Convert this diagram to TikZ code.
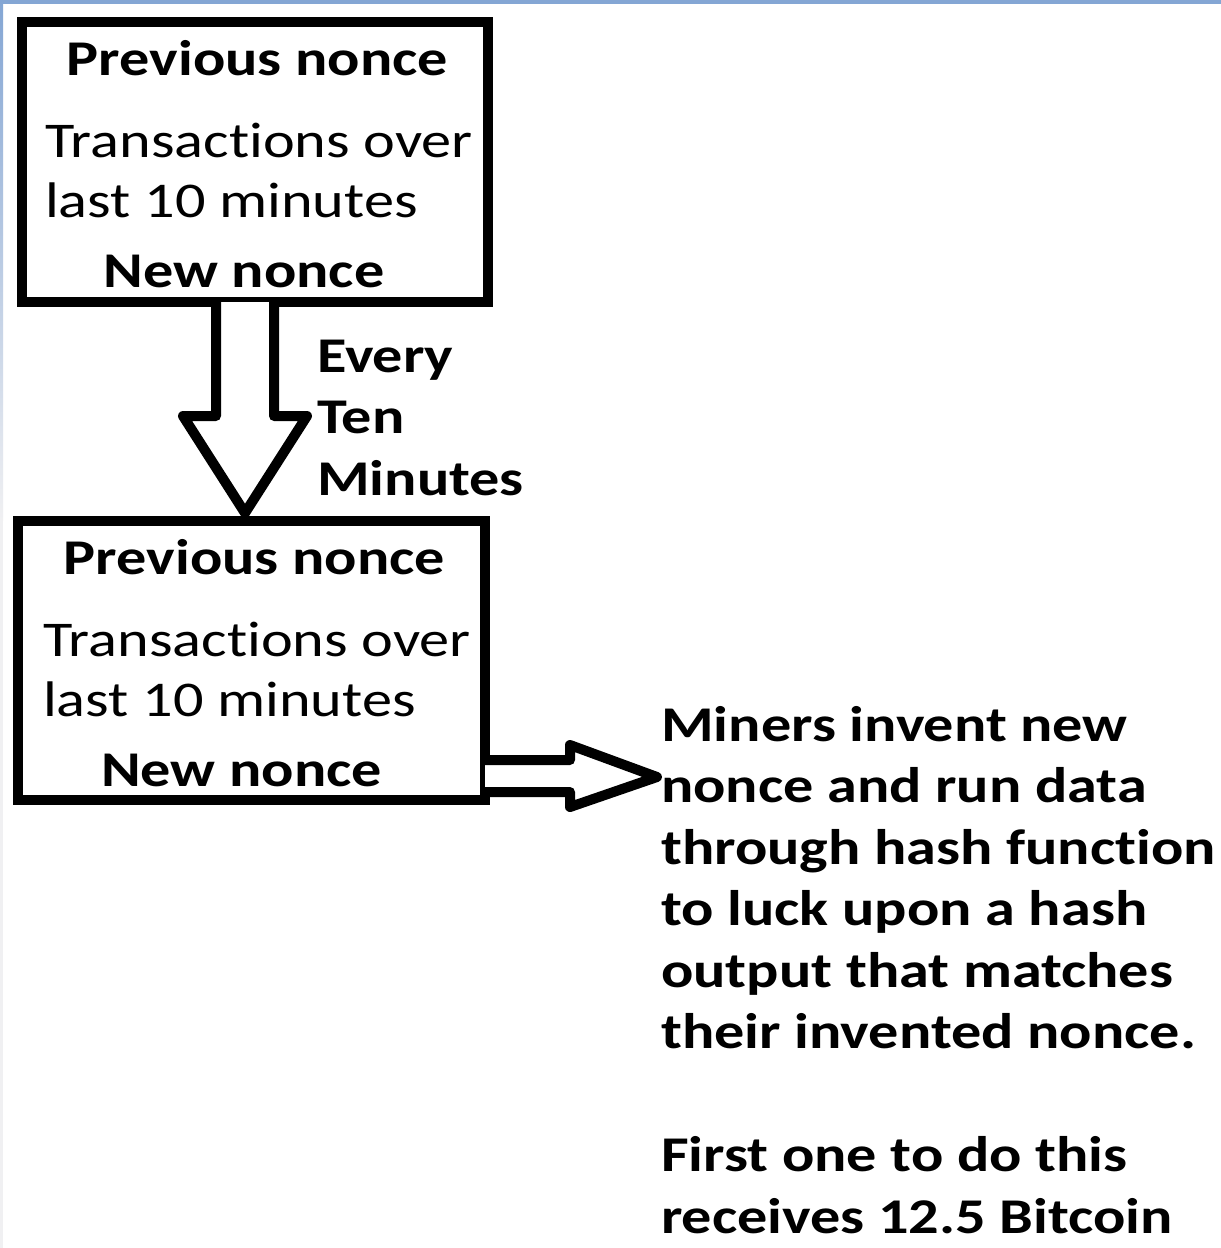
\documentclass[tikz,border=0pt]{standalone}
\usepackage{fontspec}
\setmainfont{Carlito}[FakeStretch=1.205, Ligatures=NoCommon]
\usetikzlibrary{calc}
\definecolor{topband}{RGB}{132,166,212}
\definecolor{sideband}{RGB}{240,240,242}
\begin{document}
\begin{tikzpicture}[x=1pt,y=-1pt,
  box/.style={draw=black, line width=10pt, line join=miter, outer sep=0pt, inner sep=0pt, fill=none},
  blockarrow/.style={draw=black, line width=10pt, line join=round, fill=white},
  boxhead/.style={font=\fontsize{50}{60}\selectfont\bfseries, anchor=base, inner sep=0pt},
  boxbody/.style={font=\fontsize{50}{60}\selectfont, anchor=base west, align=left, inner sep=0pt},
  note/.style={font=\fontsize{50}{61.5}\selectfont\bfseries, anchor=base west, align=left, inner sep=0pt}]
\useasboundingbox (0,0) rectangle (1221,1248);
\fill[white] (0,0) rectangle (1221,1248);
\fill[sideband] (0,0) rectangle (3,1248);
\shade[top color=topband, bottom color=sideband] (0,0) rectangle (3,520);
\fill[topband] (0,0) rectangle (1221,4);

% first block
\node[boxhead] (p1) at (257.5,75) {Previous nonce};
\node[boxbody] (t1) at (45,217) {Transactions over\\last 10 minutes};
\node[boxhead] (n1) at (244,287) {New nonce};
\node[box, minimum width=466pt, minimum height=280pt] (b1) at (255,162) {};

% second block
\node[boxhead] (p2) at (254.5,574) {Previous nonce};
\node[boxbody] (t2) at (43,716) {Transactions over\\last 10 minutes};
\node[boxhead] (n2) at (241.5,786) {New nonce};
\node[box, minimum width=467pt, minimum height=279pt] (b2) at (251.5,660.5) {};

% labels
\node[note] (every) at (317,495) {Every\\Ten\\Minutes};
\node[note] (miners) at (661,1233) {Miners invent new\\nonce and run data\\through hash function\\to luck upon a hash\\output that matches\\their invented nonce.\\[61.5pt]First one to do this\\receives 12.5 Bitcoin};

% down block arrow from b1 to b2
\coordinate (dtip) at ($(b2.north)+(-6.5,-8)$);
\draw[blockarrow]
  ($(b1.south)+(-39,0)$) -- ($(b1.south)+(-39,114)$) -- ($(b1.south)+(-72,114)$)
  -- (dtip)
  -- ($(b1.south)+(52,114)$) -- ($(b1.south)+(19,114)$) -- ($(b1.south)+(19,0)$);

% right block arrow from b2 to the note
\coordinate (rtip) at ($(b2.east)+(172,116.5)$);
\draw[blockarrow]
  ($(b2.east)+(0,99.5)$) -- ($(b2.east)+(85,99.5)$) -- ($(b2.east)+(85,84.5)$)
  -- (rtip)
  -- ($(b2.east)+(85,146.5)$) -- ($(b2.east)+(85,131.5)$) -- ($(b2.east)+(0,131.5)$);
\end{tikzpicture}
\end{document}
